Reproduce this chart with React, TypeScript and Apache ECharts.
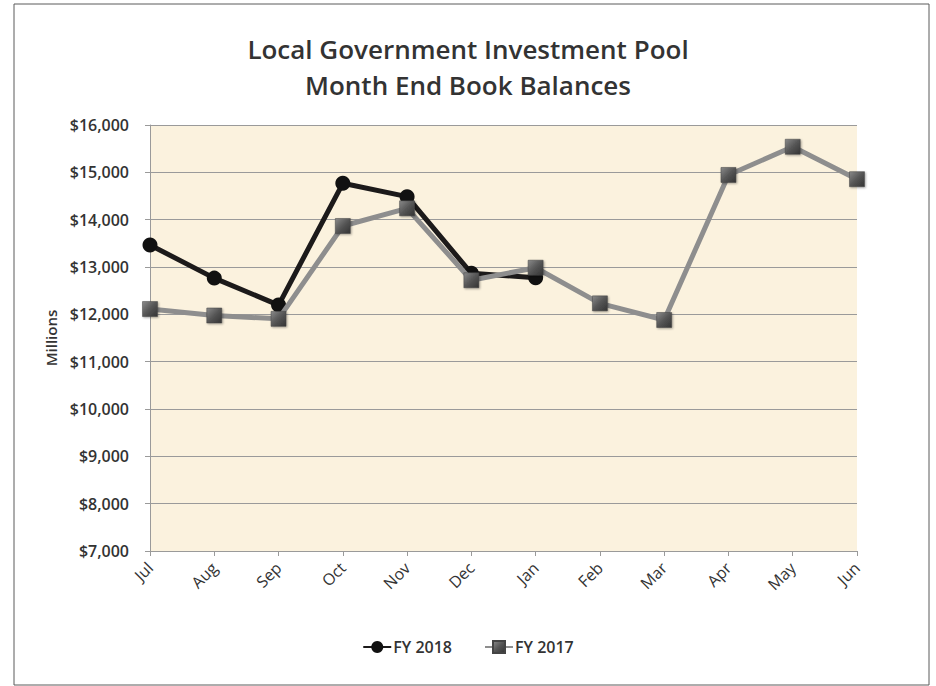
import React, { useEffect, useRef } from "react";
import * as echarts from "echarts";

const months = ["Jul", "Aug", "Sep", "Oct", "Nov", "Dec", "Jan", "Feb", "Mar", "Apr", "May", "Jun"];
const fy2018 = [13465, 12765, 12195, 14768, 14486, 12866, 12774];
const fy2017 = [12112, 11975, 11905, 13866, 14240, 12720, 12985, 12232, 11880, 14944, 15540, 14855];
const titleLines = ["Local Government Investment Pool", "Month End Book Balances"];

const FONT = "'Open Sans', 'Noto Sans', sans-serif";

export default function App() {
  const ref = useRef<HTMLDivElement>(null);
  useEffect(() => {
    if (!ref.current) return;
    const chart = echarts.init(ref.current, null, { renderer: "svg" });
    const squareFill = new echarts.graphic.LinearGradient(0, 0, 1, 1, [
      { offset: 0, color: "#8a8a8a" },
      { offset: 0.5, color: "#555555" },
      { offset: 1, color: "#333333" },
    ]);
    chart.setOption({
      animation: false,
      backgroundColor: "#ffffff",
      textStyle: { fontFamily: FONT },
      title: {
        text: titleLines.join("\n"),
        left: "center",
        top: 31,
        padding: 0,
        textStyle: { fontSize: 26, fontWeight: 600, lineHeight: 36, color: "#333333", fontFamily: FONT },
      },
      graphic: [
        {
          type: "rect",
          shape: { x: 14, y: 4, width: 915, height: 681 },
          style: { fill: "none", stroke: "#5a5a5a", lineWidth: 1 },
          silent: true,
        },
      ],
      legend: {
        bottom: 26,
        left: "center",
        itemGap: 32,
        itemWidth: 28,
        itemHeight: 15,
        textStyle: { fontSize: 16, fontWeight: 600, color: "#333333", fontFamily: FONT, padding: [0, 0, 0, -3] },
        data: ["FY 2018", "FY 2017"],
      },
      grid: {
        left: 150,
        right: 79,
        top: 125,
        bottom: 135,
        show: true,
        backgroundColor: "#fbf2de",
        borderWidth: 0,
      },
      xAxis: {
        type: "category",
        data: months,
        boundaryGap: false,
        axisLine: { lineStyle: { color: "#9a9a9a" } },
        axisTick: { show: true, length: 5, lineStyle: { color: "#9a9a9a" } },
        axisLabel: { rotate: 45, fontSize: 16, color: "#333333", margin: 14, fontFamily: FONT },
        splitLine: { show: false },
      },
      yAxis: {
        type: "value",
        min: 7000,
        max: 16000,
        interval: 1000,
        name: "Millions",
        nameLocation: "middle",
        nameGap: 88,
        nameTextStyle: { fontSize: 15, fontWeight: 600, color: "#333333", fontFamily: FONT },
        axisLine: { show: true, lineStyle: { color: "#9a9a9a" } },
        axisTick: { show: true, length: 5, lineStyle: { color: "#9a9a9a" } },
        axisLabel: {
          fontSize: 16,
          fontWeight: 600,
          color: "#333333",
          margin: 21,
          fontFamily: FONT,
          formatter: (v: number) => "$" + v.toLocaleString("en-US"),
        },
        splitLine: { lineStyle: { color: "#9a9a9a", width: 1 } },
      },
      series: [
        {
          name: "FY 2017",
          type: "line",
          data: fy2017,
          symbol: "rect",
          symbolSize: 15,
          lineStyle: { color: "#8e8e8e", width: 5 },
          itemStyle: {
            color: squareFill,
            borderColor: "#444444",
            borderWidth: 0.5,
            shadowColor: "rgba(0,0,0,0.35)",
            shadowBlur: 2,
            shadowOffsetX: 1,
            shadowOffsetY: 1,
          },
          z: 2,
        },
        {
          name: "FY 2018",
          type: "line",
          data: fy2018,
          symbol: "circle",
          symbolSize: 15,
          lineStyle: { color: "#1c1a1a", width: 5 },
          itemStyle: { color: "#111111", borderWidth: 0 },
          z: 1,
        },
      ],
    });
    return () => chart.dispose();
  }, []);
  return (
    <div
      ref={ref}
      style={{ position: "fixed", left: 0, top: 0, width: 936, height: 686 }}
    />
  );
}
